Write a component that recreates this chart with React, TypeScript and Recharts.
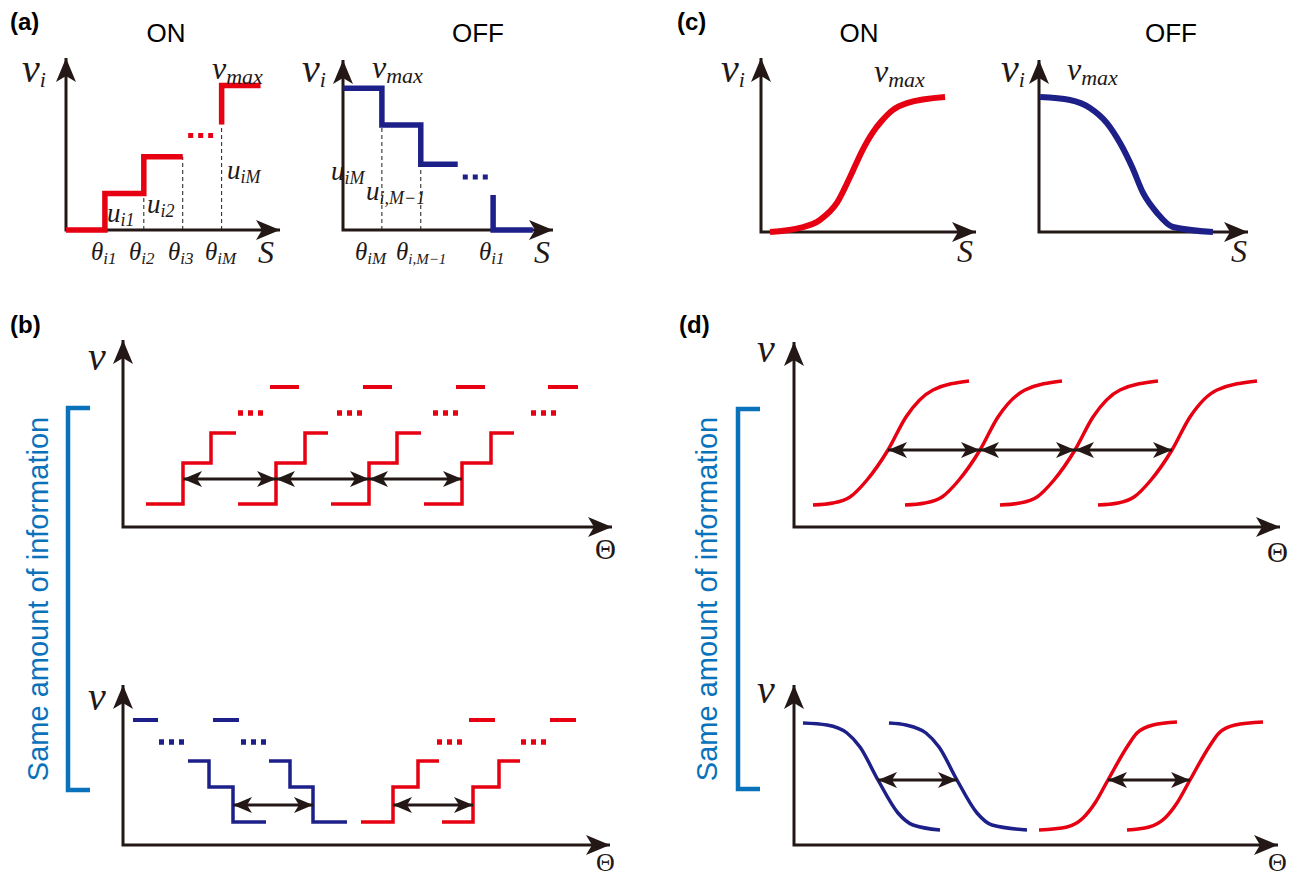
import React from "react";
import { LineChart, Line, XAxis, YAxis } from "recharts";

const RED = "#e60012";
const NAVY = "#1d2088";
const INK = "#231815";
const CYAN = "#0a72bb";
const MATH = "'Liberation Serif', 'DejaVu Serif', serif";
const SANS = "'Liberation Sans', Arial, sans-serif";

// (a) ON: staircase response
const aOnS = [0, 1, 2, 3];
const aOnV = [0, 1, 2, 2];
const aOnDotS = [3.14, 3.78];
const aOnDotV = [2.58, 2.58];
const aOnTopS = [4, 4, 5];
const aOnTopV = [2.88, 3.95, 3.95];
const aOnGuideS = [2, 3, 4];
const aOnGuideV = [1, 2, 2.88];

// (a) OFF
const aOffS = [0, 1, 2, 2.95];
const aOffV = [3.88, 2.87, 1.8, 1.8];
const aOffDotS = [3.08, 3.73];
const aOffDotV = [1.45, 1.45];
const aOffTailS = [3.86, 3.86, 4.88];
const aOffTailV = [0.96, 0, 0];
const aOffGuideS = [1, 2];
const aOffGuideV = [2.87, 1.8];

// (c) smooth tuning curves
const cOnS = [0.42, 1.81, 2.74, 3.53, 4.14, 4.7, 5.21, 5.6, 6.1, 6.79, 8.56];
const cOnV = [0, 0.03, 0.089, 0.215, 0.407, 0.6, 0.74, 0.82, 0.9, 0.955, 1.0];
const cOffS = [0.05, 1.44, 2.37, 3.16, 3.77, 4.33, 4.84, 5.49, 6.23, 8.09];
const cOffV = [1.0, 0.978, 0.919, 0.807, 0.659, 0.481, 0.289, 0.141, 0.037, 0];

// (b) top: four ON staircases
const bTopStepX = [
  [2.3, 6.0, 8.8, 11.3],
  [11.5, 15.3, 18.2, 20.5],
  [20.8, 24.6, 27.4, 29.8],
  [30.1, 33.9, 36.8, 39.1],
];
const bTopStepY = [2.3, 6.4, 9.4, 9.4];
const bTopDotX = [[11.5, 14.1], [21.4, 24.0], [31.0, 33.7], [40.8, 43.5]];
const bTopDotY = 11.4;
const bTopDashX = [[14.7, 17.6], [24.0, 26.9], [33.3, 36.2], [42.5, 45.5]];
const bTopDashY = 14.0;
const bTopArrowX = [[6.0, 15.3], [15.3, 24.6], [24.6, 33.9]];
const bTopArrowY = 4.8;

// (b) bottom: OFF + ON staircases
const bBotBlueStepX = [[6.5, 8.6, 11.0, 14.3], [14.6, 16.7, 19.0, 22.4]];
const bBotBlueStepY = [8.4, 5.8, 2.3, 2.3];
const bBotBlueDotX = [[3.6, 6.1], [11.8, 14.4]];
const bBotBlueDashX = [[1.0, 3.5], [9.0, 11.6]];
const bBotRedStepX = [[23.8, 27.0, 29.5, 31.6], [31.9, 35.0, 37.6, 39.7]];
const bBotRedStepY = [2.3, 5.8, 8.4, 8.4];
const bBotRedDotX = [[31.4, 34.0], [39.8, 42.4]];
const bBotRedDashX = [[34.6, 37.2], [42.7, 45.3]];
const bBotDotY = 10.3;
const bBotDashY = 12.5;
const bBotArrowX = [[11.0, 19.0], [27.0, 35.0]];
const bBotArrowY = 4.0;

// (d) top: four ON sigmoids
const dTopX = [
  [1.9, 3.9, 5.6, 7.3, 9.4, 11.2, 13.9, 17.5],
  [11.1, 13.1, 14.8, 16.5, 18.6, 20.4, 23.1, 26.8],
  [20.6, 22.6, 24.3, 26.0, 28.1, 29.9, 32.6, 36.4],
  [30.4, 32.4, 34.0, 35.7, 37.8, 39.6, 42.3, 46.3],
];
const dTopY = [2.2, 2.4, 3.0, 4.7, 7.7, 11.0, 13.7, 14.6];
const dTopArrowX = [[9.4, 18.6], [18.6, 28.1], [28.1, 37.8]];
const dTopArrowY = 7.7;

// (d) bottom: two OFF + two ON sigmoids
const dBotBlueX = [
  [0.9, 3.3, 5.3, 6.6, 8.4, 10.4, 11.9, 14.6],
  [9.5, 11.2, 13.2, 14.5, 16.3, 18.3, 19.8, 23.3],
];
const dBotBlueY = [12.2, 12.0, 11.2, 9.8, 6.5, 3.2, 2.0, 1.5];
const dBotRedX = [
  [24.5, 27.3, 28.9, 30.1, 31.4, 33.3, 34.3, 35.9, 38.3],
  [33.3, 35.5, 37.1, 38.3, 39.6, 41.5, 42.5, 44.1, 46.9],
];
const dBotRedY = [1.5, 1.8, 2.7, 4.2, 6.5, 9.8, 11.2, 12.0, 12.3];
const dBotArrowX = [[8.4, 16.3], [31.4, 39.6]];
const dBotArrowY = 6.5;

const zip = (xs: number[], ys: number[]) => xs.map((x, i) => ({ x, y: ys[i] }));
const flat = (xs: number[], y: number) => xs.map((x) => ({ x, y }));

function head(cx: number, cy: number, dir: string, L: number, W: number, n: number) {
  let p: number[][];
  if (dir === "r") p = [[cx, cy], [cx - L, cy - W], [cx - L + n, cy], [cx - L, cy + W]];
  else if (dir === "l") p = [[cx, cy], [cx + L, cy - W], [cx + L - n, cy], [cx + L, cy + W]];
  else p = [[cx, cy], [cx - W, cy + L], [cx, cy + L - n], [cx + W, cy + L]];
  return <polygon points={p.map((q) => q.join(",")).join(" ")} fill={INK} />;
}

const axisDot = (p: any) => (
  <g key={`ax${p.index}`}>
    {p.index === 0 ? head(p.cx, p.cy, "u", 24, 10, 6) : p.index === 2 ? head(p.cx, p.cy, "r", 24, 10, 6) : null}
  </g>
);
const arrowDot = (p: any) => <g key={`ar${p.index}`}>{head(p.cx, p.cy, p.index === 0 ? "l" : "r", 19, 8, 5)}</g>;

function seg(key: string, data: any[], stroke: string, width: number, extra: any = {}) {
  return (
    <Line
      key={key}
      data={data}
      dataKey="y"
      type="linear"
      stroke={stroke}
      strokeWidth={width}
      strokeLinejoin="miter"
      dot={false}
      activeDot={false}
      isAnimationActive={false}
      {...extra}
    />
  );
}

function Panel({ left, top, w, h, xMax, yMax, axis = true, children }: any) {
  const m = 26;
  return (
    <div style={{ position: "absolute", left: left - m, top: top - m }}>
      <LineChart width={w + 2 * m} height={h + 2 * m} margin={{ top: m, right: m, bottom: m, left: m }}>
        <XAxis type="number" dataKey="x" domain={[0, xMax]} hide />
        <YAxis type="number" domain={[0, yMax]} hide />
        {axis &&
          seg("axis", [{ x: 0, y: yMax }, { x: 0, y: 0 }, { x: xMax, y: 0 }], INK, 3, { dot: axisDot })}
        {children}
      </LineChart>
    </div>
  );
}

function Sym({ x, y, b, s, size = 40, sub = 22, dy = 5, italic = true }: any) {
  return (
    <text x={x} y={y} fontFamily={MATH} fontStyle={italic ? "italic" : "normal"} fontSize={size} fill={INK}>
      {b}
      {s && (
        <tspan fontSize={sub} dy={dy}>
          {s}
        </tspan>
      )}
    </text>
  );
}

function Sans({ x, y, t, size = 26, bold = false, anchor = "middle" }: any) {
  return (
    <text x={x} y={y} fontFamily={SANS} fontSize={size} fontWeight={bold ? 700 : 400} textAnchor={anchor} fill="#000">
      {t}
    </text>
  );
}

const dots = { strokeDasharray: "5 5" };
const guide = { strokeDasharray: "4 3" };

export default function App() {
  return (
    <div style={{ position: "absolute", left: 0, top: 0, width: 1295, height: 879, background: "#fff", overflow: "hidden" }}>
      {/* (a) ON */}
      <Panel left={66} top={58} w={214} h={172} xMax={5.5} yMax={4.7}>
        {aOnGuideS.map((s, i) => seg(`g${i}`, [{ x: s, y: 0 }, { x: s, y: aOnGuideV[i] }], INK, 1, guide))}
        {seg("on", zip(aOnS, aOnV), RED, 5.5, { type: "stepAfter" })}
        {seg("ondot", zip(aOnDotS, aOnDotV), RED, 5, dots)}
        {seg("ontop", zip(aOnTopS, aOnTopV), RED, 5.5)}
      </Panel>
      {/* (a) OFF */}
      <Panel left={343} top={60} w={210} h={170} xMax={5.4} yMax={4.65}>
        {aOffGuideS.map((s, i) => seg(`g${i}`, [{ x: s, y: 0 }, { x: s, y: aOffGuideV[i] }], INK, 1, guide))}
        {seg("off", zip(aOffS, aOffV), NAVY, 5.5, { type: "stepAfter" })}
        {seg("offdot", zip(aOffDotS, aOffDotV), NAVY, 5, dots)}
        {seg("offtail", zip(aOffTailS, aOffTailV), NAVY, 5.5)}
      </Panel>
      {/* (c) */}
      <Panel left={761} top={58} w={215} h={174} xMax={10} yMax={1.289}>
        {seg("con", zip(cOnS, cOnV), RED, 6, { type: "monotone" })}
      </Panel>
      <Panel left={1039} top={60} w={209} h={172} xMax={9.72} yMax={1.274}>
        {seg("coff", zip(cOffS, cOffV), NAVY, 6, { type: "monotone" })}
      </Panel>
      {/* (b) top */}
      <Panel left={123} top={340} w={489} h={187} xMax={48.9} yMax={18.7}>
        {bTopStepX.map((xs, i) => seg(`st${i}`, zip(xs, bTopStepY), RED, 3.5, { type: "stepAfter" }))}
        {bTopDotX.map((xs, i) => seg(`dt${i}`, flat(xs, bTopDotY), RED, 5.5, dots))}
        {bTopDashX.map((xs, i) => seg(`ds${i}`, flat(xs, bTopDashY), RED, 4))}
        {bTopArrowX.map((xs, i) => seg(`ar${i}`, flat(xs, bTopArrowY), INK, 3, { dot: arrowDot }))}
      </Panel>
      {/* (b) bottom */}
      <Panel left={123} top={685} w={487} h={160} xMax={48.7} yMax={16}>
        {bBotBlueStepX.map((xs, i) => seg(`bs${i}`, zip(xs, bBotBlueStepY), NAVY, 3.5, { type: "stepAfter" }))}
        {bBotBlueDotX.map((xs, i) => seg(`bd${i}`, flat(xs, bBotDotY), NAVY, 5.5, dots))}
        {bBotBlueDashX.map((xs, i) => seg(`bh${i}`, flat(xs, bBotDashY), NAVY, 4))}
        {bBotRedStepX.map((xs, i) => seg(`rs${i}`, zip(xs, bBotRedStepY), RED, 3.5, { type: "stepAfter" }))}
        {bBotRedDotX.map((xs, i) => seg(`rd${i}`, flat(xs, bBotDotY), RED, 5.5, dots))}
        {bBotRedDashX.map((xs, i) => seg(`rh${i}`, flat(xs, bBotDashY), RED, 4))}
        {bBotArrowX.map((xs, i) => seg(`ar${i}`, flat(xs, bBotArrowY), INK, 3, { dot: arrowDot }))}
      </Panel>
      {/* (d) top */}
      <Panel left={794} top={342} w={486} h={185} xMax={48.6} yMax={18.5}>
        {dTopX.map((xs, i) => seg(`sg${i}`, zip(xs, dTopY), RED, 3.5, { type: "monotone" }))}
        {dTopArrowX.map((xs, i) => seg(`ar${i}`, flat(xs, dTopArrowY), INK, 3, { dot: arrowDot }))}
      </Panel>
      {/* (d) bottom */}
      <Panel left={794} top={685} w={484} h={160} xMax={48.4} yMax={16}>
        {dBotBlueX.map((xs, i) => seg(`bl${i}`, zip(xs, dBotBlueY), NAVY, 3.5, { type: "monotone" }))}
        {dBotRedX.map((xs, i) => seg(`rd${i}`, zip(xs, dBotRedY), RED, 3.5, { type: "monotone" }))}
        {dBotArrowX.map((xs, i) => seg(`ar${i}`, flat(xs, dBotArrowY), INK, 3, { dot: arrowDot }))}
      </Panel>
      {/* brackets */}
      <Panel left={68} top={408} w={22} h={382} xMax={1} yMax={1} axis={false}>
        {seg("br", [{ x: 1, y: 1 }, { x: 0, y: 1 }, { x: 0, y: 0 }, { x: 1, y: 0 }], CYAN, 4.5)}
      </Panel>
      <Panel left={738} top={409} w={22} h={380} xMax={1} yMax={1} axis={false}>
        {seg("br", [{ x: 1, y: 1 }, { x: 0, y: 1 }, { x: 0, y: 0 }, { x: 1, y: 0 }], CYAN, 4.5)}
      </Panel>

      <svg width={1295} height={879} style={{ position: "absolute", left: 0, top: 0, pointerEvents: "none" }}>
        {/* panel letters and titles */}
        <Sans x={10} y={30} t="(a)" size={24} bold anchor="start" />
        <Sans x={677} y={30} t="(c)" size={24} bold anchor="start" />
        <Sans x={10} y={333} t="(b)" size={24} bold anchor="start" />
        <Sans x={679} y={333} t="(d)" size={24} bold anchor="start" />
        <Sans x={166} y={42} t="ON" />
        <Sans x={478} y={42} t="OFF" />
        <Sans x={859} y={42} t="ON" />
        <Sans x={1171} y={42} t="OFF" />

        {/* (a) ON */}
        <Sym x={22} y={82} b="ν" s="i" />
        <Sym x={212} y={79} b="ν" s="max" size={32} sub={22} />
        <Sym x={107} y={222} b="u" s="i1" size={27} sub={18} dy={4} />
        <Sym x={147} y={213} b="u" s="i2" size={27} sub={18} dy={4} />
        <Sym x={227} y={179} b="u" s="iM" size={27} sub={18} dy={4} />
        <Sym x={91} y={260} b="θ" s="i1" size={25} sub={17} dy={4} />
        <Sym x={129} y={260} b="θ" s="i2" size={25} sub={17} dy={4} />
        <Sym x={168} y={260} b="θ" s="i3" size={25} sub={17} dy={4} />
        <Sym x={205} y={260} b="θ" s="iM" size={25} sub={17} dy={4} />
        <Sym x={258} y={263} b="S" size={32} />

        {/* (a) OFF */}
        <Sym x={302} y={82} b="ν" s="i" />
        <Sym x={372} y={78} b="ν" s="max" size={32} sub={22} />
        <Sym x={331} y={180} b="u" s="iM" size={27} sub={18} dy={4} />
        <Sym x={366} y={200} b="u" s="i,M−1" size={27} sub={18} dy={4} />
        <Sym x={355} y={260} b="θ" s="iM" size={25} sub={17} dy={4} />
        <Sym x={396} y={260} b="θ" s="i,M−1" size={25} sub={15} dy={4} />
        <Sym x={479} y={260} b="θ" s="i1" size={25} sub={17} dy={4} />
        <Sym x={534} y={263} b="S" size={32} />

        {/* (c) */}
        <Sym x={721} y={82} b="ν" s="i" />
        <Sym x={874} y={82} b="ν" s="max" size={32} sub={22} />
        <Sym x={957} y={262} b="S" size={32} />
        <Sym x={1001} y={82} b="ν" s="i" />
        <Sym x={1067} y={80} b="ν" s="max" size={32} sub={22} />
        <Sym x={1231} y={262} b="S" size={32} />

        {/* (b), (d) axis symbols */}
        <Sym x={88} y={370} b="ν" />
        <Sym x={595} y={559} b="Θ" size={29} italic={false} />
        <Sym x={88} y={710} b="ν" />
        <Sym x={596} y={871} b="Θ" size={26} italic={false} />
        <Sym x={757} y={362} b="ν" />
        <Sym x={1267} y={562} b="Θ" size={29} italic={false} />
        <Sym x={757} y={703} b="ν" />
        <Sym x={1268} y={871} b="Θ" size={26} italic={false} />

        {/* bracket captions */}
        <text x={48} y={599} transform="rotate(-90 48 599)" textAnchor="middle" fontFamily={SANS} fontSize={29} fill={CYAN}>
          Same amount of information
        </text>
        <text x={717} y={599} transform="rotate(-90 717 599)" textAnchor="middle" fontFamily={SANS} fontSize={29} fill={CYAN}>
          Same amount of information
        </text>
      </svg>
    </div>
  );
}
